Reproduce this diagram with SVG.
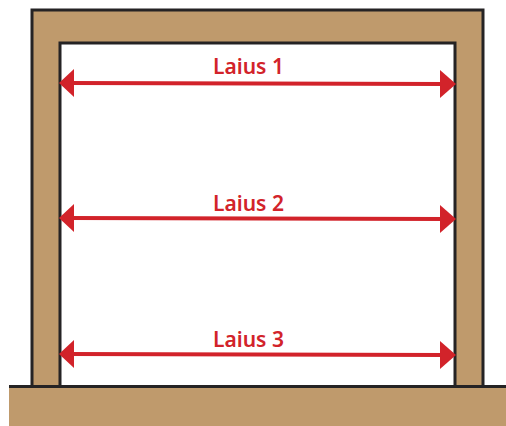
<svg xmlns="http://www.w3.org/2000/svg" width="506" height="426" viewBox="0 0 506 426">
<style>
.wood{fill:#bf9a6c}
.edge{fill:none;stroke:#252324;stroke-width:3}
.arrow{stroke:#d2232a;stroke-width:4;fill:none}
.head{fill:#d2232a}
.label{font-family:"Noto Sans","Liberation Sans",sans-serif;font-size:21px;font-weight:600;fill:#d2232a;text-anchor:middle}
</style>
<g id="frame">
<path class="wood" d="M32 10H483V386H455V43H60V386H32Z"/>
<path class="edge" d="M32 386V10H483V386"/>
<path class="edge" d="M60 386V43H455V386"/>
</g>
<g id="ground">
<rect class="wood" x="9" y="387" width="497" height="39"/>
<path class="edge" d="M9 386.500H506"/>
</g>
<g id="connectors">
<path class="arrow" d="M70 83L444 84"/>
<path class="head" d="M59 83L74 69V97Z"/>
<path class="head" d="M456 84L440 70V98Z"/>
<path class="arrow" d="M70 218L444 219"/>
<path class="head" d="M59 218L74 204V232Z"/>
<path class="head" d="M456 219L440 205V233Z"/>
<path class="arrow" d="M70 354L444 355"/>
<path class="head" d="M59 354L74 340V368Z"/>
<path class="head" d="M456 355L440 341V369Z"/>
</g>
<g id="laius-1"><text class="label" x="248.500" y="74">Laius 1</text></g>
<g id="laius-2"><text class="label" x="248.500" y="211">Laius 2</text></g>
<g id="laius-3"><text class="label" x="248.500" y="347">Laius 3</text></g>
</svg>
